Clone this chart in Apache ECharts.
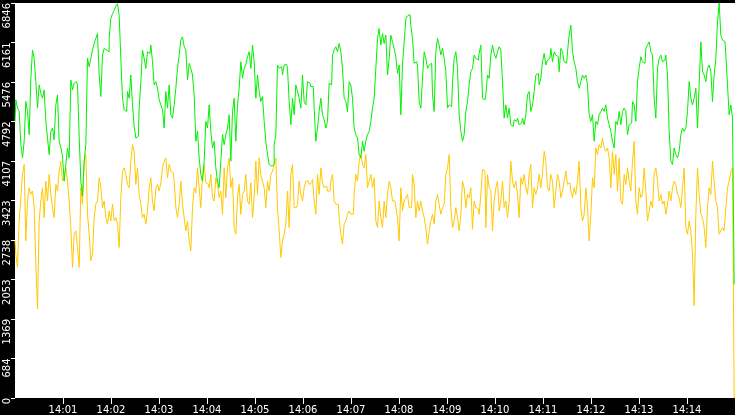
<!DOCTYPE html>
<html><head><meta charset="utf-8">
<script src="https://cdn.jsdelivr.net/npm/echarts@6/dist/echarts.min.js"></script>
<style>html,body{margin:0;padding:0;background:#000}#c{width:735px;height:415px}</style>
</head><body><div id="c"></div>
<script>
// Time axis: seconds after 14:00:00, one sample every 900/432 s
const startTime = '14:00:00';
const sampleSeconds = 900 / 432;

const xTickSeconds = [60,120,180,240,300,360,420,480,540,600,660,720,780,840];
const xTickLabels = ['14:01','14:02','14:03','14:04','14:05','14:06','14:07','14:08','14:09','14:10','14:11','14:12','14:13','14:14'];
const yTickValues = [0,684.6,1369.2,2053.8,2738.4,3423,4107.6,4792.2,5476.8,6161.4,6846];
const yTickLabels = ['0','684','1369','2053','2738','3423','4107','4792','5476','6161','6846'];

const greenValues = [
4794,5167,5024,4966,4391,4161,4449,5139,4966,4564,
5541,6030,5886,5483,5024,5426,5282,5196,5340,4794,
4506,4219,4621,4679,4477,5081,5253,4449,4334,4190,
3759,4046,4334,4161,5512,5340,5455,5483,5426,4535,
3759,3500,4104,4391,5886,5742,5886,6030,6144,6231,
6317,5598,5225,5943,6058,6030,6001,6231,6576,6662,
6719,6794,6834,6633,5886,5196,4995,4966,5311,5196,
5598,5081,4707,4506,4535,5024,5483,6030,5886,5713,
6001,5972,6116,5828,5426,5483,5368,5167,5081,4995,
4679,5311,5024,5426,4909,4851,5081,5368,5713,5943,
6202,6259,6087,6030,5512,5800,5713,5598,
5254,4449,4621,4161,3874,3759,4104,4794,4679,5081,
4621,4334,4449,3989,3759,3644,4104,4564,4391,4564,
4679,4909,4104,4966,5196,4449,5081,5368,5828,5541,
5713,5771,5915,6001,5713,6116,5828,5196,5598,5311,
5139,5225,4794,4449,4219,4047,4018,4047,4391,4564,
5771,5713,5742,5598,5771,5782,5713,5139,4736,5196,
4909,5426,5311,5196,5024,5598,5139,5081,5483,5455,
5397,5397,5024,4449,4679,4966,5196,4909,4822,4679,
4794,5455,5426,5943,6030,6087,6001,6144,6001,5713,
5196,5139,4966,5483,5426,5196,4679,4564,4506,4219,
4161,4449,4276,4449,4564,4621,4794,5024,
5196,5713,6231,6403,6116,6317,6144,6288,5598,5886,
6288,6173,6058,5915,5627,5771,4909,5771,6173,6576,
6622,6645,6461,6231,5800,5828,5771,5139,5024,5541,
6001,5886,5713,5771,5800,5254,4966,6001,6231,6116,
5943,6058,5886,5656,5024,5081,5052,5483,5886,6001,
5713,4909,4621,4449,4564,4966,5139,5426,5656,5713,
5943,5886,5857,5972,6116,5196,5167,5254,5598,5541,
5943,6116,5972,5886,6001,6087,6030,5483,4851,5081,
4851,5024,4736,4708,4822,4794,4851,4736,4765,4851,
4736,4909,5254,5311,4966,5081,5311,5598,5627,5426,
5541,5828,5972,5771,5857,5886,6058,5828,
6001,5943,5915,5656,6058,6001,5828,5800,6001,6288,
6461,6001,5828,5713,5483,5368,5483,5598,5541,5598,
5426,4909,4794,4909,4449,4794,4736,4909,4966,5024,
4966,5081,4851,4736,4621,4449,4334,4794,4736,4966,
4736,4966,5024,4966,4564,4736,4765,5139,5081,4794,
5483,5713,5915,5828,5800,6058,6116,6173,6001,5943,
5196,4851,5713,5886,5943,5828,5857,5943,5598,4621,
4104,4047,4334,4219,4161,4276,4564,4679,4621,4679,
4966,5483,5196,5081,5196,5368,4679,5426,6173,5656,
5598,5483,5713,5771,5656,5139,5598,5886,6518,6846,
6288,6202,6173,5943,5426,4909,5081,4851,1977
];

const yellowValues = [
2724,2495,2265,3069,3472,3874,4047,2724,3414,3644,
3529,3587,3299,2322,1546,3069,3414,3644,3127,3759,
3414,3874,3529,3299,3127,3702,3587,3932,4103,3759,
3817,3989,3759,3414,2954,2265,2839,2897,2610,2265,
3644,3357,4103,4219,3184,2839,2380,2495,3127,3357,
3414,3817,3644,3299,3414,3127,3012,3242,3069,3357,
3069,3127,3012,2610,3472,3932,3989,3874,3702,3644,
4103,4391,4276,3702,3989,3529,3357,3127,3184,3012,
3242,3644,3817,3414,3242,3644,3702,3587,3730,3989,
4103,4161,3817,4047,3932,3903,3759,3299,3127,3357,
3759,3357,3127,2897,3069,2724,2552,3299,
3644,3558,3989,3644,3299,3874,4047,3730,3702,3644,
3874,3472,3414,3817,3702,3472,3587,3184,3989,3472,
3989,4161,3644,3817,2954,2839,3472,3702,3184,3529,
3587,3874,3414,3357,3730,3127,3472,4104,3529,4161,
3874,3759,3644,3299,3759,3587,3874,3932,4047,4161,
3299,2897,2437,2724,2839,3012,3587,2954,3874,4047,
3299,3299,3357,3759,3529,3414,3644,3759,3759,3702,
3730,3788,3414,3184,3874,3529,3989,3730,3644,3673,
3587,3587,3759,3874,3414,3357,3357,3127,2839,2667,
3012,3069,3184,3242,3184,3184,3529,3874,3759,4104,
4219,4047,3989,4219,3644,3759,3874,3644,
3817,3069,2954,3414,3127,2954,3414,3127,3529,3759,
3644,3414,3414,3299,3127,2724,3644,3242,3414,3472,
3529,3299,3299,3874,3702,3127,3414,3242,3414,3242,
3127,2954,2667,2897,3069,3184,3012,3414,3529,3357,
3184,3299,3357,3874,3989,4219,3299,2954,3069,3299,
3127,2897,3184,3759,3644,3299,3529,3472,3644,2926,
3414,3299,3271,3184,3529,3960,3932,2954,3874,3644,
3587,2897,3414,3644,3759,3242,3414,3759,3299,3414,
3127,3414,4104,3759,3644,3759,3529,3127,3817,3702,
3874,3644,3529,3874,4047,3299,3644,3529,3644,3874,
3644,3903,4276,4104,3644,3587,3874,3759,
3299,3587,3874,3759,3472,3587,3759,3932,3702,3730,
3587,3472,3644,3529,3759,4104,3299,3069,3184,3644,
3299,2724,3184,3817,3644,4334,4219,4391,4334,4506,
4334,4276,4334,4161,3644,4276,3874,4219,3587,4161,
3414,3357,3874,3702,3989,3759,3587,4104,4449,3414,
3184,3644,3472,3529,3989,3587,3069,3242,3414,3299,
3874,3989,3759,3414,3529,3357,3414,3184,3357,3587,
3414,3644,3759,3702,3529,3472,3299,3644,3989,2954,
2839,3069,2897,2495,1604,3184,3989,3529,3184,3127,
2954,2610,3299,3644,3529,4104,3759,3414,3299,2839,
2897,2954,2897,3299,3644,3759,3932,3989,0
];

const toPairs = vals => vals.map((v, i) => [i * sampleSeconds, v]);

const chart = echarts.init(document.getElementById('c'), null, {renderer: 'canvas'});
const labelFont = 'DejaVu Sans';
chart.setOption({
  animation: false,
  backgroundColor: '#000',
  grid: {left: 15, right: 0, top: 1, bottom: 17, show: true, backgroundColor: '#fff', borderWidth: 0},
  xAxis: {
    type: 'value', min: 0, max: 900,
    axisLine: {show: false}, splitLine: {show: false},
    axisTick: {show: true, customValues: xTickSeconds, length: 6, lineStyle: {color: '#fff', width: 1}},
    axisLabel: {
      customValues: xTickSeconds,
      formatter: v => { const i = xTickSeconds.indexOf(Math.round(v)); return i >= 0 ? xTickLabels[i] : ''; },
      color: '#fff', fontSize: 10, fontFamily: labelFont, margin: 7
    }
  },
  yAxis: {
    type: 'value', min: 0, max: 6846,
    axisLine: {show: false}, splitLine: {show: false},
    axisTick: {show: true, customValues: yTickValues, length: 4, lineStyle: {color: '#fff', width: 1}},
    axisLabel: {
      customValues: yTickValues,
      formatter: v => {
        let best = 0;
        yTickValues.forEach((t, i) => { if (Math.abs(t - v) < Math.abs(yTickValues[best] - v)) best = i; });
        return yTickLabels[best];
      },
      rotate: 90, align: 'right', verticalAlign: 'middle', margin: 8,
      color: '#fff', fontSize: 10, fontFamily: labelFont
    }
  },
  series: [
    {type: 'line', data: toPairs(yellowValues), step: 'middle', symbol: 'none', silent: true,
     lineStyle: {color: '#ffc800', width: 1}, z: 2},
    {type: 'line', data: toPairs(greenValues), step: 'middle', symbol: 'none', silent: true,
     lineStyle: {color: '#00f000', width: 1}, z: 3}
  ]
});
</script>
</body></html>
